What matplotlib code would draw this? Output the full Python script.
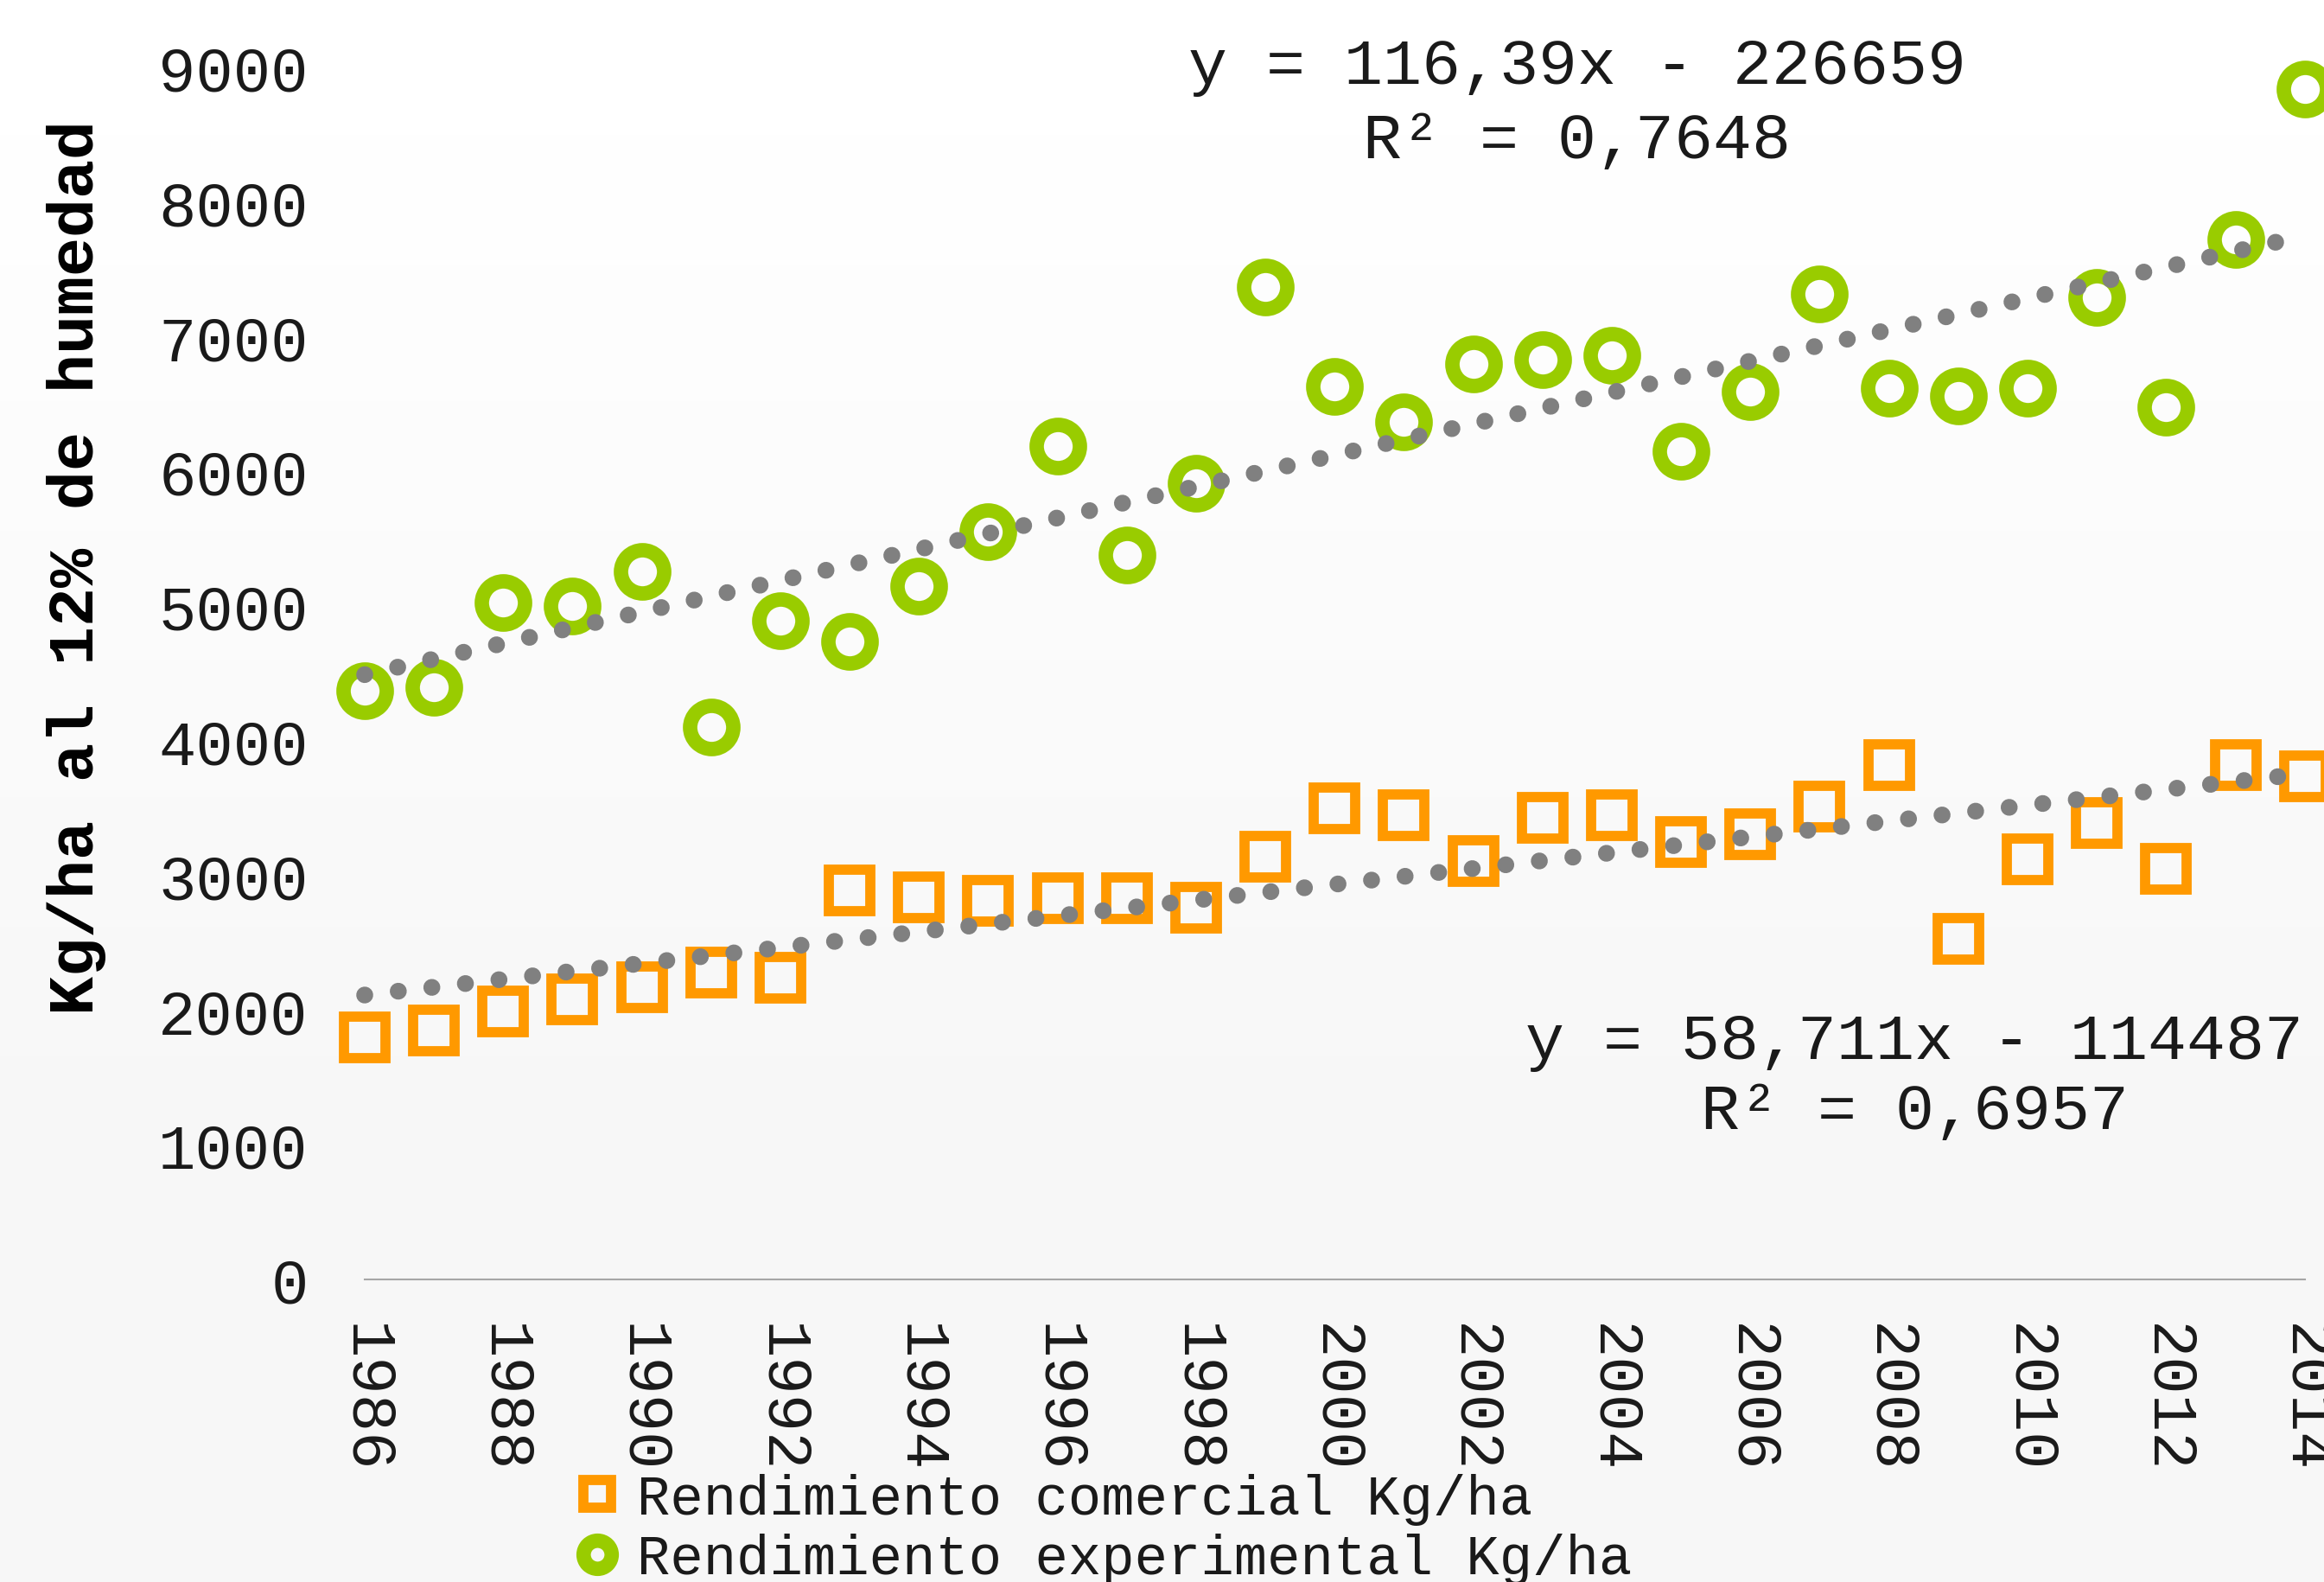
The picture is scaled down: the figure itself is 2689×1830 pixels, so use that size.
import matplotlib.pyplot as plt
import numpy as np

# Datos
years = list(range(1986, 2015))
comercial = [1800, 1850, 1990, 2080, 2170, 2280, 2240, 2890, 2840, 2810,
             2830, 2830, 2760, 3140, 3500, 3450, 3110, 3430, 3450, 3250,
             3310, 3510, 3820, 2530, 3120, 3390, 3050, 3820, 3740]
experimental = [4370, 4400, 5030, 5000, 5260, 4100, 4890, 4740, 5150, 5550,
                6190, 5380, 5910, 7370, 6630, 6370, 6800, 6830, 6860, 6150,
                6590, 7320, 6620, 6560, 6620, 7290, 6480, 7720, 8840]

# Coeficientes de las líneas de tendencia (pendiente, ordenada)
tend_comercial = (58.711, -114487)
tend_experimental = (116.39, -226659)

xticks = list(range(1986, 2015, 2))
yticks = list(range(0, 9001, 1000))

plt.rcParams['font.family'] = ['Liberation Mono', 'DejaVu Sans Mono']
text_color = '#1a1a1a'

fig = plt.figure(figsize=(26.89, 18.31), dpi=100)

# Fondo: degradado muy suave de blanco a gris claro abajo
bg = fig.add_axes([0, 0, 1, 1], zorder=-10)
grad = np.linspace(1.0, 0.0, 256).reshape(-1, 1)
grad = np.clip((grad - 0.25) / 0.75, 0, 1)
bg.imshow(0.965 + 0.035 * grad, cmap='gray', vmin=0, vmax=1, aspect='auto',
          extent=[0, 1, 0, 1])
bg.axis('off')

ax = fig.add_axes([0.1569, 0.1910, 0.8348, 0.7659])
ax.patch.set_alpha(0)

# Puntos
ax.plot(years, comercial, 's', ms=34.5, mfc='none', mec='#FF9900', mew=8.5,
        clip_on=False, zorder=2, label='Rendimiento comercial Kg/ha')
ax.plot(years, experimental, 'o', ms=36, mfc='none', mec='#99CC00', mew=12,
        clip_on=False, zorder=2, label='Rendimiento experimental Kg/ha')

# Líneas de tendencia punteadas
x = np.array(years)
for a, b in (tend_comercial, tend_experimental):
    ax.plot(x, a * x + b, color='#808080', lw=14, linestyle=(0, (0.01, 2.0)),
            dash_capstyle='round', clip_on=False, zorder=3)

# Ecuaciones
eq_kw = dict(ha='center', va='center', fontsize=54, color=text_color)
ax.text(2003.5, 9010, 'y = 116,39x - 226659', **eq_kw)
ax.text(2003.5, 8460, 'R² = 0,7648', **eq_kw)
ax.text(2008.37, 1770, 'y = 58,711x - 114487', **eq_kw)
ax.text(2008.37, 1250, 'R² = 0,6957', **eq_kw)

ax.set_xlim(1986, 2014)
ax.set_ylim(0, 9000)
ax.set_xticks(xticks)
ax.set_xticklabels([str(t) for t in xticks], rotation=270, ha='center', va='top')
ax.set_yticks(yticks)
ax.tick_params(axis='both', length=0, labelsize=52, colors=text_color)
ax.tick_params(axis='y', pad=47)
ax.tick_params(axis='x', pad=36)

for side in ['top', 'right', 'left']:
    ax.spines[side].set_visible(False)
ax.spines['bottom'].set_color('#a6a6a6')
ax.spines['bottom'].set_linewidth(1.5)

ax.set_ylabel('Kg/ha al 12% de humedad', fontsize=54, fontweight='bold',
              color='black')
ax.yaxis.set_label_coords(-0.133, 0.588)

fig.legend(loc='upper left', bbox_to_anchor=(0.245, 0.069), frameon=False,
           fontsize=46, markerscale=0.65, handlelength=1.0, handletextpad=0.22,
           labelspacing=0.15, borderpad=0, borderaxespad=0, labelcolor=text_color)

fig.savefig('out.png', dpi=100)
